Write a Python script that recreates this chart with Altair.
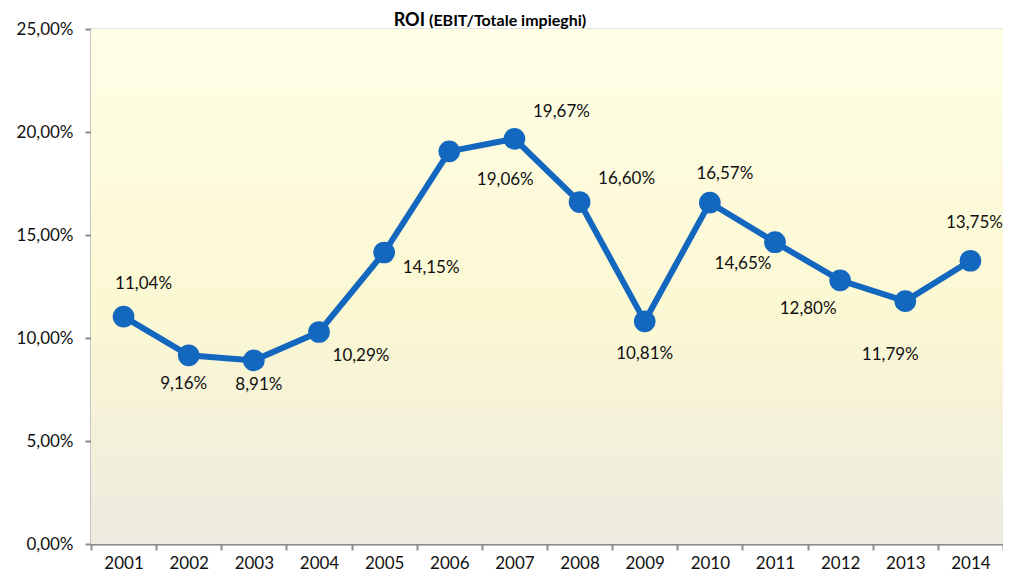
import altair as alt
import pandas as pd

years = [2001, 2002, 2003, 2004, 2005, 2006, 2007, 2008, 2009, 2010, 2011, 2012, 2013, 2014]
roi = [11.04, 9.16, 8.91, 10.29, 14.15, 19.06, 19.67, 16.60, 10.81, 16.57, 14.65, 12.80, 11.79, 13.75]
title_main = "ROI"
title_sub = "(EBIT/Totale impieghi)"

labels = [f"{v:.2f}".replace(".", ",") + "%" for v in roi]
df = pd.DataFrame({"year": years, "roi": roi, "label": labels})

# label offsets (style) relative to each point
offsets = {
    2001: (20, -33), 2002: (-5, 29), 2003: (5, 25), 2004: (42, 24),
    2005: (47, 15), 2006: (56, 29), 2007: (47, -27), 2008: (47, -23),
    2009: (0, 33), 2010: (15, -29), 2011: (-32, 22), 2012: (-32, 29),
    2013: (-15, 54), 2014: (4, -38),
}

W, H = 912, 515
FONT = "Lato"
FS = 17

xenc = alt.X("year:O", bandPosition=0.5,
             scale=alt.Scale(type="band", paddingInner=0, paddingOuter=0),
             axis=alt.Axis(title=None, labelAngle=0, tickBand="extent", grid=False,
                           domainColor="#8c8c8c", domainWidth=2, tickColor="#8c8c8c",
                           tickWidth=2, tickSize=6, labelFontSize=FS, labelColor="#111",
                           labelFont=FONT, labelPadding=5))
yenc = alt.Y("roi:Q", scale=alt.Scale(domain=[0, 25], nice=False),
             axis=alt.Axis(title=None, values=[0, 5, 10, 15, 20, 25],
                           labelExpr="replace(format(datum.value, '.2f'), '.', ',') + '%'",
                           grid=True, gridColor="#8c8c8c", gridWidth=1.5,
                           domainColor="#8c8c8c", domainWidth=2, tickColor="#8c8c8c",
                           tickWidth=2, tickSize=6, labelFontSize=FS, labelColor="#111",
                           labelFont=FONT, labelPadding=12))

bg = alt.Chart(pd.DataFrame({"a": [0]})).mark_rect(
    fill=alt.Gradient(gradient="linear", x1=0, y1=0, x2=0, y2=1,
                      stops=[alt.GradientStop(offset=0, color="#FFFEE6"),
                             alt.GradientStop(offset=0.55, color="#FBF8D3"),
                             alt.GradientStop(offset=1, color="#EDEAE0")])
).encode(x=alt.value(0), x2=alt.value(W), y=alt.value(0), y2=alt.value(H))

base = alt.Chart(df)
line = base.mark_line(color="#1467BF", strokeWidth=6).encode(x=xenc, y=yenc)
pts = base.mark_circle(color="#1467BF", size=470, opacity=1).encode(x=xenc, y=yenc)

texts = []
for yr in years:
    dx, dy = offsets[yr]
    texts.append(base.transform_filter(alt.datum.year == yr).mark_text(
        dx=dx, dy=dy, fontSize=FS, font=FONT, color="#111", baseline="middle"
    ).encode(x=xenc, y=yenc, text="label:N"))

t1 = alt.Chart(pd.DataFrame({"t": [title_main]})).mark_text(
    align="right", baseline="alphabetic", fontSize=18, fontWeight="bold", font=FONT, color="#000"
).encode(x=alt.value(334), y=alt.value(-3), text="t:N")
t2 = alt.Chart(pd.DataFrame({"t": [title_sub]})).mark_text(
    align="left", baseline="alphabetic", fontSize=16, fontWeight="bold", font=FONT, color="#000"
).encode(x=alt.value(338), y=alt.value(-3), text="t:N")

chart = alt.layer(bg, line, pts, *texts, t1, t2).properties(
    width=W, height=H, autosize=alt.AutoSizeParams(type="none"),
    padding={"left": 83, "top": 21, "right": 0, "bottom": 30},
).configure_view(stroke=None).configure(background="white")

chart.save("out.html", embed_options={"renderer": "svg", "actions": False})
